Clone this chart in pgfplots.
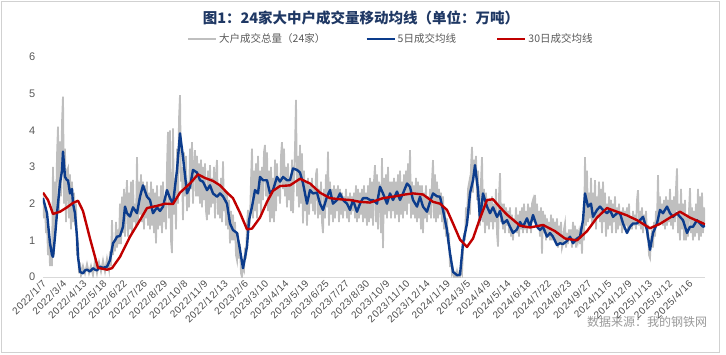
\documentclass[border=0pt]{standalone}
\usepackage{pgfplots}
\pgfplotsset{compat=1.18}
\usepackage{fontspec}
\setmainfont{Liberation Sans}
\newfontfamily\cjk{Noto Sans CJK SC}
\newfontfamily\tickfont[LetterSpace=6]{Liberation Sans}
\definecolor{cgrey}{HTML}{BFBFBF}
\definecolor{cblue}{HTML}{0C3C8C}
\definecolor{cred}{HTML}{C00000}
\definecolor{ctitle}{HTML}{1F3864}
\definecolor{ctext}{HTML}{595959}
\begin{document}
\begin{tikzpicture}
\useasboundingbox (0,0) rectangle (726pt,354pt);
\draw[black!18, line width=0.8pt] (1pt,2pt) rectangle (719pt,353pt);
\node[text=black!40, font=\cjk\fontsize{12}{14}\selectfont] at (647pt,32pt) {数据来源：我的钢铁网};
\node[text=ctitle, font=\cjk\bfseries\fontsize{14.5}{16}\selectfont] at (361pt,336pt) {图1：24家大中户成交量移动均线（单位：万吨）};
\begin{axis}[
  at={(43pt,77pt)}, anchor=south west,
  scale only axis, width=662pt, height=220pt,
  xmin=43, xmax=705, ymin=0, ymax=6,
  axis x line=bottom, axis y line=left,
  x axis line style={-, draw=black!15, line width=1pt},
  y axis line style={draw=none},
  tick style={draw=none},
  ytick={0,1,2,3,4,5,6},
  yticklabel style={text=ctext, font=\fontsize{11}{12}\selectfont, xshift=-2pt},
  /pgf/number format/assume math mode=true,
  xtick={43,63.2,83.4,103.6,123.8,144,164.2,184.4,204.6,224.8,245,265.2,285.4,305.6,325.8,346,366.2,386.4,406.6,426.8,447,467.2,487.4,507.6,527.8,548,568.2,588.4,608.6,628.8,649,669.2,689.4},
  xticklabels={2022/1/7,2022/3/4,2022/4/13,2022/5/18,2022/6/22,2022/7/26,2022/8/29,2022/10/8,2022/11/9,2022/12/13,2023/2/6,2023/3/10,2023/4/14,2023/5/19,2023/6/25,2023/7/27,2023/8/30,2023/10/9,2023/11/10,2023/12/14,2024/1/19,2024/3/5,2024/4/9,2024/5/14,2024/6/18,2024/7/22,2024/8/23,2024/9/27,2024/11/5,2024/12/9,2025/1/13,2025/3/12,2025/4/16},
  xticklabel style={rotate=45, anchor=east, text=black!70, font=\tickfont\fontsize{10}{11}\selectfont, inner sep=1pt, yshift=-3pt},
  legend columns=3,
  legend style={draw=none, fill=none, at={(axis cs:391,6.49)}, anchor=center,
    font=\cjk\fontsize{10.5}{12}\selectfont, text=ctext,
    /tikz/every even column/.append style={column sep=38pt}},
  legend image code/.code={\draw[#1] (0pt,0pt) -- (28pt,0pt);},
  legend cell align=left,
]
\addplot[cgrey, line width=1.8pt] coordinates {
(43,2.2)(44,1.6)(45,2.0)(46,1.2)(47,1.5)(48,0.6)(49,1.1)(50,0.3)(51,0.9)(52,0.3)
(53,3.0)(54,0.6)(55,2.6)(56,1.5)(57,3.3)(58,4.1)(59,1.8)(60,3.7)(61,2.2)(62,4.2)
(63,4.92)(64,2.0)(65,3.5)(66,1.5)(67,2.9)(68,2.97)(69,1.6)(70,2.8)(71,1.3)(72,2.6)
(73,1.5)(74,2.3)(75,1.4)(76,2.0)(77,0.6)(78,1.0)(79,0.1)(80,0.4)
(81,0.05)(83,0.3)(85,0.1)(87,0.35)(89,0.1)(91,0.3)(93,0.05)(95,0.45)(97,0.1)(99,0.4)
(101,0.15)(103,0.45)(105,0.15)(107,0.5)(109,0.2)(110,0.7)(111,0.3)(112,1.55)(113,0.6)(114,1.0)
(115,0.7)(116,1.5)(117,0.8)(118,1.3)(119,0.9)(120,2.0)(121,0.9)(122,2.19)(123,1.2)(124,2.4)
(125,1.1)(126,2.1)(127,2.64)(128,1.1)(129,2.3)(130,1.3)(131,2.6)(132,1.2)(133,2.65)(134,1.5)
(135,2.0)(136,1.4)(137,3.27)(138,1.5)(139,2.6)(140,1.7)(141,2.8)(142,1.5)(143,2.6)(144,1.3)
(145,2.5)(146,1.6)(147,2.6)(148,1.4)(149,2.3)(150,1.3)(151,2.6)(152,1.4)(153,2.4)(154,1.2)
(155,2.3)(156,0.92)(157,2.5)(158,1.3)(159,2.2)(160,1.4)(161,2.5)(162,1.2)(163,2.6)(164,1.5)
(165,2.0)(166,1.3)(167,3.0)(168,3.96)(169,1.6)(170,4.0)(171,1.0)(172,0.65)(173,4.05)(174,1.7)
(175,2.7)(176,1.3)(177,3.5)(178,2.0)(179,4.3)(180,4.96)(181,2.6)(182,3.0)(183,1.55)(184,3.4)
(185,2.2)(186,3.3)(187,1.8)(188,2.6)(189,1.9)(190,3.5)(191,2.4)(192,3.68)(193,2.0)(194,3.0)
(195,3.46)(196,2.2)(197,3.3)(198,2.2)(199,3.1)(200,2.0)(201,3.2)(202,1.9)(203,3.0)(204,2.1)
(205,3.1)(206,1.8)(207,1.55)(208,2.9)(209,1.7)(210,3.05)(211,1.9)(212,2.7)(213,2.0)(214,3.0)
(215,1.6)(216,2.8)(217,3.19)(218,1.7)(219,2.5)(220,1.6)(221,2.7)(222,1.5)(223,3.15)(224,1.8)
(225,2.4)(226,1.4)(227,2.3)(228,1.3)(229,2.1)(230,0.92)(231,1.8)(232,1.0)(233,1.7)(234,1.0)
(235,1.5)(236,0.6)(237,0.46)(238,1.2)(239,0.5)(240,0.9)(241,0.1)(242,0.0)(243,0.3)(244,0.2)
(245,0.8)(246,0.5)(247,1.4)(248,1.83)(249,1.3)(250,1.55)(251,2.6)(252,3.5)(253,1.6)(254,2.9)
(255,1.8)(256,3.1)(257,1.6)(258,3.3)(259,2.0)(260,2.9)(261,1.7)(262,3.0)(263,2.1)(264,3.4)
(265,3.6)(266,2.2)(267,3.4)(268,1.8)(269,2.9)(270,1.5)(271,3.0)(272,1.6)(273,2.7)(274,1.5)
(275,3.2)(276,1.8)(277,3.1)(278,2.2)(279,2.7)(280,2.0)(281,3.3)(282,3.68)(283,2.4)(284,3.5)
(285,2.2)(286,3.0)(287,1.9)(288,3.1)(289,2.1)(290,2.6)(291,1.8)(292,3.2)(293,1.74)(294,2.7)
(295,3.5)(296,4.83)(297,2.2)(298,3.3)(299,1.9)(300,3.6)(301,2.0)(302,3.37)(303,1.46)(304,2.9)
(305,1.8)(306,2.6)(307,1.4)(308,2.7)(309,1.7)(310,2.5)(311,2.0)(312,2.7)(313,1.8)(314,2.4)
(315,1.7)(316,2.8)(317,2.96)(318,1.6)(319,2.4)(320,1.7)(321,2.6)(322,1.5)(323,1.2)(324,2.4)
(325,1.6)(326,2.8)(327,1.9)(328,3.42)(329,1.4)(330,2.6)(331,1.7)(332,2.4)(333,1.5)(334,2.5)
(335,1.6)(336,2.4)(337,1.8)(338,2.5)(339,1.5)(340,2.4)(341,1.7)(342,2.3)(343,1.6)(344,2.2)
(345,1.8)(346,2.4)(347,1.6)(348,2.2)(349,1.5)(350,2.3)(351,1.7)(352,2.2)(353,1.8)(354,2.3)
(355,1.6)(356,2.5)(357,1.5)(358,2.4)(359,1.6)(360,2.3)(361,1.7)(362,2.4)(363,1.5)(364,2.5)
(365,1.6)(366,2.3)(367,1.4)(368,2.5)(369,1.5)(370,2.7)(371,1.6)(372,2.6)(373,1.4)(374,2.6)
(375,3.05)(376,1.5)(377,2.8)(378,1.3)(379,2.6)(380,2.4)(381,1.2)(382,3.24)(383,0.79)(384,2.7)
(385,1.7)(386,2.8)(387,1.6)(388,3.0)(389,1.8)(390,2.6)(391,1.6)(392,2.6)(393,1.8)(394,2.7)
(395,1.6)(396,2.6)(397,1.7)(398,2.8)(399,1.5)(400,2.9)(401,1.7)(402,2.6)(403,1.6)(404,2.8)
(405,1.8)(406,2.9)(407,1.7)(408,3.1)(409,2.0)(410,3.46)(411,1.6)(412,2.6)(413,1.7)(414,2.5)
(415,1.6)(416,2.7)(417,1.5)(418,2.6)(419,1.6)(420,2.5)(421,1.3)(422,2.5)(423,1.2)(424,2.3)
(425,1.6)(426,2.5)(427,1.5)(428,2.2)(429,1.7)(430,2.4)(431,1.6)(432,2.6)(433,3.19)(434,1.6)
(435,2.8)(436,1.5)(437,2.6)(438,1.6)(439,2.4)(440,1.7)(441,2.3)(442,1.5)(443,2.2)(444,1.3)
(445,1.9)(446,1.1)(447,1.6)(448,0.9)(449,1.2)(450,0.27)(451,0.6)(452,0.1)(453,0.2)(454,0.0)
(455,0.1)(456,0.0)(457,0.15)(458,0.0)(459,0.1)(460,0.0)(461,0.2)(462,0.1)(463,0.7)(464,1.2)
(465,1.0)(466,1.9)(467,1.4)(468,2.4)(469,2.55)(470,1.7)(471,3.0)(472,3.55)(473,2.3)(474,3.2)
(475,2.8)(476,3.3)(477,2.1)(478,2.9)(479,1.8)(480,1.4)(481,2.6)(482,3.27)(483,1.5)(484,2.4)
(485,1.2)(486,2.3)(487,1.4)(488,2.1)(489,1.3)(490,2.1)(491,1.5)(492,2.2)(493,1.3)(494,2.0)
(495,1.5)(496,2.4)(497,1.2)(498,0.83)(499,2.2)(500,2.83)(501,1.5)(502,2.0)(503,1.3)(504,2.0)
(505,1.2)(506,1.9)(507,1.4)(508,1.8)(509,1.2)(510,1.9)(511,1.1)(512,1.7)(513,1.0)(514,1.6)
(515,1.3)(516,1.9)(517,1.2)(518,1.7)(519,1.1)(520,1.8)(521,1.3)(522,1.9)(523,1.2)(524,2.0)
(525,1.3)(526,1.8)(527,1.2)(528,2.0)(529,1.4)(530,1.9)(531,1.2)(532,2.0)(533,2.1)(534,1.5)
(535,2.24)(536,1.4)(537,2.0)(538,1.3)(539,1.8)(540,1.1)(541,1.9)(542,0.64)(543,1.8)(544,1.2)
(545,1.7)(546,1.0)(547,1.6)(548,1.1)(549,1.5)(550,1.0)(551,1.7)(552,1.0)(553,1.6)(554,1.1)
(555,1.5)(556,0.9)(557,1.6)(558,0.8)(559,1.4)(560,0.9)(561,1.5)(562,0.8)(563,0.92)(564,1.3)
(565,1.46)(566,0.8)(567,1.2)(568,0.9)(569,1.3)(570,1.0)(571,1.3)(572,0.8)(573,1.5)(574,1.0)
(575,1.4)(576,0.8)(577,1.3)(578,1.0)(579,1.2)(580,0.9)(581,1.4)(582,0.64)(583,1.6)(584,1.0)
(585,3.27)(586,1.4)(587,2.9)(588,1.5)(589,2.3)(590,1.6)(591,2.7)(592,1.4)(593,2.3)(594,1.5)
(595,2.64)(596,1.3)(597,2.2)(598,1.6)(599,2.6)(600,1.5)(601,2.4)(602,1.2)(603,2.6)(604,1.5)
(605,2.3)(606,1.1)(607,2.0)(608,1.3)(609,2.2)(610,1.4)(611,2.1)(612,1.2)(613,2.0)(614,1.5)
(615,2.2)(616,1.2)(617,1.9)(618,1.3)(619,2.0)(620,1.4)(621,1.8)(622,1.2)(623,1.9)(624,1.3)
(625,1.8)(626,1.4)(627,1.9)(628,1.3)(629,2.0)(630,1.3)(631,1.6)(632,1.3)(633,1.8)(634,1.4)
(635,1.7)(636,1.3)(637,2.1)(638,2.37)(639,1.4)(640,1.8)(641,1.3)(642,1.9)(643,1.2)(644,1.7)
(645,1.4)(646,1.8)(647,1.2)(648,1.3)(649,0.6)(650,0.52)(651,1.0)(652,1.3)(653,0.8)(654,1.5)
(655,1.1)(656,1.8)(657,1.5)(658,2.78)(659,1.4)(660,2.2)(661,1.5)(662,2.0)(663,1.4)(664,2.1)
(665,1.3)(666,2.2)(667,1.4)(668,2.1)(669,1.5)(670,2.4)(671,1.4)(672,2.1)(673,1.3)(674,2.2)
(675,1.5)(676,2.4)(677,2.96)(678,1.2)(679,2.0)(680,1.0)(681,2.4)(682,1.3)(683,2.0)(684,1.0)
(685,2.1)(686,1.0)(687,1.7)(688,1.1)(689,1.8)(690,2.42)(691,1.2)(692,1.9)(693,1.0)(694,1.8)
(695,1.1)(696,2.0)(697,1.2)(698,2.4)(699,1.0)(700,2.2)(701,1.1)(702,2.3)(703,1.2)(704,1.9)
(705,1.5)
};
\addlegendentry{大户成交总量（24家）}
\addplot[cblue, line width=2.4pt, line join=round] coordinates {
(43,2.15)(45,1.95)(47,1.74)(50,0.92)(52,0.60)(53,0.55)(55,1.10)(57,1.74)(58,2.00)(60,2.56)
(62,2.90)(63,3.42)(65,2.73)(67,2.64)(68,2.64)(70,2.28)(72,2.40)(73,2.00)(75,1.74)(77,1.10)
(78,0.55)(80,0.14)(83,0.10)(85,0.18)(87,0.20)(90,0.15)(93,0.24)(95,0.20)(97,0.18)(100,0.28)
(103,0.25)(107,0.28)(110,0.46)(113,0.92)(115,1.00)(117,1.10)(120,1.12)(123,1.37)(125,1.92)(127,1.74)
(130,1.65)(133,1.90)(137,1.74)(140,2.19)(143,2.50)(147,2.19)(150,2.10)(153,1.74)(157,1.90)(160,1.80)
(163,1.92)(167,2.37)(170,2.15)(173,2.00)(177,2.92)(180,3.92)(183,3.27)(187,2.28)(190,2.46)(193,2.92)
(197,2.85)(200,2.64)(203,2.60)(207,2.37)(210,2.50)(213,2.28)(217,2.19)(220,2.28)(223,2.20)(227,2.00)
(230,1.46)(233,1.28)(237,1.20)(240,0.74)(243,0.24)(247,0.83)(249,1.55)(252,1.92)(255,2.37)(258,2.28)
(260,2.73)(263,2.64)(267,2.64)(270,2.28)(273,2.37)(277,2.73)(280,2.60)(283,2.73)(287,2.64)(290,2.64)
(293,2.96)(297,2.92)(300,2.85)(303,2.56)(307,2.00)(310,2.37)(313,2.28)(317,2.30)(320,2.00)(323,1.83)
(327,2.19)(330,2.37)(333,2.00)(337,2.10)(340,2.28)(343,2.10)(347,2.00)(350,1.83)(353,2.10)(357,1.78)
(360,2.00)(363,2.15)(367,2.15)(370,2.10)(373,2.10)(377,2.00)(380,2.46)(383,2.28)(387,2.00)(390,2.28)
(393,2.10)(397,2.33)(400,2.10)(403,2.28)(407,2.55)(410,2.46)(413,2.10)(417,1.92)(420,2.19)(423,1.92)
(427,1.78)(430,2.05)(433,2.28)(437,2.20)(440,2.19)(443,1.83)(447,1.28)(450,0.64)(453,0.14)(457,0.05)
(460,0.06)(463,0.92)(467,1.46)(470,2.28)(473,2.64)(475,3.05)(478,2.37)(480,1.55)(483,2.28)(487,1.92)
(490,1.74)(493,1.90)(497,1.64)(500,1.80)(503,1.46)(507,1.55)(510,1.37)(513,1.20)(517,1.30)(520,1.50)
(523,1.37)(527,1.60)(530,1.37)(533,1.69)(537,1.37)(540,1.28)(543,1.37)(547,1.10)(550,1.20)(553,1.10)
(557,0.87)(560,0.92)(563,0.90)(567,0.98)(570,1.10)(573,0.92)(577,1.05)(580,1.10)(583,1.55)(585,2.28)
(588,1.92)(591,2.00)(593,1.64)(597,1.83)(600,1.92)(603,1.83)(607,1.74)(610,1.83)(613,1.64)(617,1.74)
(620,1.74)(623,1.46)(627,1.20)(630,1.37)(633,1.46)(637,1.46)(640,1.55)(643,1.64)(647,1.28)(650,0.74)
(653,1.20)(657,1.46)(660,1.83)(663,1.74)(667,1.92)(670,1.74)(673,1.64)(677,1.74)(680,1.64)(683,1.55)
(687,1.20)(690,1.37)(693,1.37)(697,1.55)(700,1.46)(703,1.37)(705,1.40)
};
\addlegendentry{5日成交均线}
\addplot[cred, line width=2.4pt, line join=round] coordinates {
(43,2.30)(48,2.10)(53,1.72)(60,1.78)(67,1.90)(73,2.02)(78,2.08)(83,1.80)(90,1.05)(98,0.25)
(107,0.20)(112,0.24)(120,0.55)(130,1.10)(140,1.55)(147,1.88)(157,1.94)(165,2.00)(173,1.99)(180,2.30)
(190,2.55)(198,2.80)(205,2.70)(213,2.62)(220,2.50)(227,2.30)(233,2.15)(240,1.75)(247,1.30)(252,1.32)
(260,1.62)(267,2.05)(273,2.35)(280,2.48)(290,2.50)(300,2.68)(310,2.55)(320,2.30)(330,2.15)(340,2.12)
(350,2.10)(360,2.05)(370,2.03)(383,2.15)(395,2.20)(405,2.25)(413,2.28)(423,2.25)(433,2.05)(440,2.00)
(447,1.83)(453,1.46)(460,1.02)(467,0.82)(473,1.05)(480,1.60)(487,2.10)(493,2.12)(500,1.90)(507,1.70)
(520,1.40)(530,1.35)(543,1.42)(555,1.25)(565,1.05)(577,1.00)(587,1.25)(597,1.62)(607,1.88)(617,1.78)
(627,1.68)(637,1.55)(650,1.33)(660,1.45)(670,1.62)(680,1.78)(690,1.62)(700,1.50)(705,1.44)
};
\addlegendentry{30日成交均线}
\end{axis}
\end{tikzpicture}
\end{document}
